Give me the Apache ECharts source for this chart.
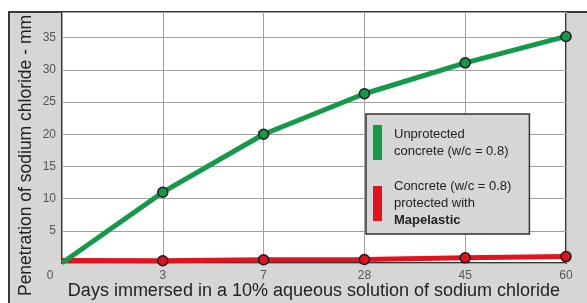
<!DOCTYPE html>
<html>
<head>
<meta charset="utf-8">
<script src="https://cdn.jsdelivr.net/npm/echarts@6/dist/echarts.min.js"></script>
<style>
  body { margin: 0; background: #fff; }
  #frame { position: absolute; left: 8px; top: 11px; width: 579px; height: 292px;
           box-sizing: border-box; background: #d6d6d6;
           border-top: 2px solid #3a3a3a; border-left: 2px solid #3a3a3a; }
  #chart { position: absolute; left: 0; top: 0; width: 587px; height: 303px; }
</style>
</head>
<body>
<div id="frame"></div>
<div id="chart"></div>
<script>
var days = ['0', '3', '7', '28', '45', '60'];
var unprotected = [0, 11.0, 20.0, 26.3, 31.1, 35.2];
var mapelastic = [0.4, 0.35, 0.5, 0.55, 0.8, 1.0];
var seriesNames = ['Unprotected concrete', 'Mapelastic'];

var chart = echarts.init(document.getElementById('chart'));

function points(values) {
    // no marker on the origin point
    return values.map(function (v, i) {
        return i === 0 ? { value: v, symbol: 'none' } : v;
    });
}

var option = {
    animation: false,
    textStyle: { fontFamily: '"Liberation Sans", Arial, sans-serif' },
    grid: {
        left: 62, right: 21, top: 12, bottom: 40,
        outerBoundsMode: 'none',
        show: true, backgroundColor: '#fff',
        borderColor: '#333', borderWidth: 2
    },
    legend: {
        orient: 'vertical',
        left: 366, top: 114,
        padding: [11, 18, 5, 7],
        itemGap: 18,
        itemWidth: 9, itemHeight: 35,
        icon: 'rect',
        itemStyle: { borderWidth: 0 },
        backgroundColor: '#d6d6d6',
        borderColor: '#333', borderWidth: 1.5,
        data: seriesNames,
        formatter: function (name) {
            if (name === 'Mapelastic') {
                return 'Concrete (w/c = 0.8)\nprotected with\n{b|Mapelastic}';
            }
            return 'Unprotected\nconcrete (w/c = 0.8)';
        },
        textStyle: {
            fontSize: 13, color: '#222', lineHeight: 17,
            padding: [0, 0, 0, 7],
            rich: { b: { fontSize: 13, fontWeight: 'bold', color: '#222', lineHeight: 17 } }
        }
    },
    xAxis: {
        type: 'category',
        data: days,
        boundaryGap: false,
        name: 'Days immersed in a 10% aqueous solution of sodium chloride',
        nameLocation: 'middle',
        nameGap: 19,
        nameMoveOverlap: false,
        nameTextStyle: { fontSize: 18, color: '#222' },
        axisLine: { show: false },
        axisTick: { show: false },
        axisLabel: {
            fontSize: 12, color: '#555', margin: 7,
            formatter: function (v, i) { return i === 0 ? '{z|' + v + '}' : v; },
            rich: { z: { fontSize: 12, color: '#555', padding: [0, 24, 0, 0] } }
        },
        splitLine: { show: true, lineStyle: { color: '#a0a0a0', width: 1 } }
    },
    yAxis: {
        type: 'value',
        min: 0, max: 39, interval: 5,
        name: 'Penetration of sodium chloride - mm',
        nameLocation: 'middle',
        nameGap: 27,
        nameMoveOverlap: false,
        nameTextStyle: { fontSize: 17.5, color: '#222', padding: [0, 36, 0, 0] },
        axisLine: { show: false },
        axisTick: { show: false },
        axisLabel: {
            fontSize: 12, color: '#555', margin: 6,
            showMaxLabel: false,
            formatter: function (v) { return v === 0 ? '' : v; }
        },
        splitLine: { lineStyle: { color: '#a0a0a0', width: 1 } }
    },
    series: [
        {
            name: seriesNames[0],
            type: 'line',
            data: points(unprotected),
            color: '#139a48',
            lineStyle: { width: 5, color: '#139a48' },
            symbol: 'circle', symbolSize: 10,
            itemStyle: { color: '#139a48', borderColor: '#1a1a1a', borderWidth: 1.5 },
            z: 3
        },
        {
            name: seriesNames[1],
            type: 'line',
            data: points(mapelastic),
            color: '#e2131f',
            lineStyle: { width: 5, color: '#e2131f' },
            symbol: 'circle', symbolSize: 10,
            itemStyle: { color: '#e2131f', borderColor: '#1a1a1a', borderWidth: 1.5 },
            z: 2
        }
    ]
};

chart.setOption(option);
window.addEventListener('resize', chart.resize);
</script>
</body>
</html>
